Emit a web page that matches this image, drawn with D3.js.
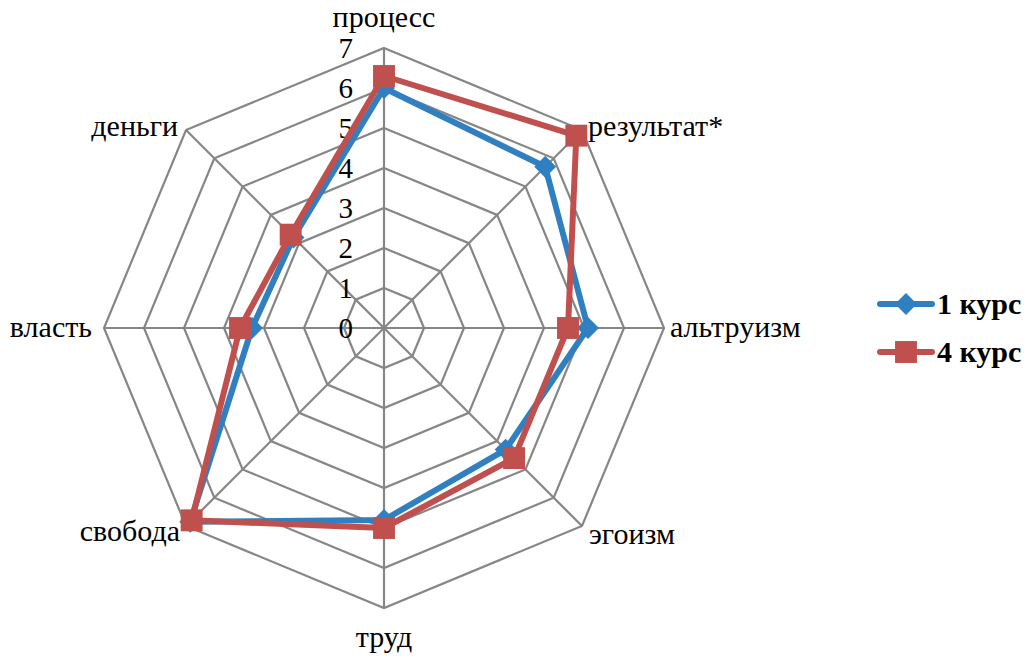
<!DOCTYPE html>
<html>
<head>
<meta charset="utf-8">
<script src="https://cdn.jsdelivr.net/npm/d3@7"></script>
<style>
  html, body { margin: 0; padding: 0; background: #fff; }
</style>
</head>
<body>
<div id="chart"></div>
<script>
const categories = ['процесс', 'результат*', 'альтруизм', 'эгоизм', 'труд', 'свобода', 'власть', 'деньги'];
const course1 = [6.0, 5.7, 5.1, 4.3, 4.8, 6.85, 3.3, 3.2];
const course4 = [6.3, 6.8, 4.6, 4.6, 5.0, 6.8, 3.6, 3.3];
const ticks = [0, 1, 2, 3, 4, 5, 6, 7];
const seriesNames = ['1 курс', '4 курс'];

const width = 1027, height = 659;
const cx = 384, cy = 328;
const blue = '#2f7fc1', red = '#c0504d';
const serif = "'Liberation Serif'";

const svg = d3.select('#chart').append('svg')
  .attr('width', width)
  .attr('height', height);

const r = d3.scaleLinear().domain([0, 7]).range([0, 280]);
const angle = d3.scalePoint().domain(categories).range([0, 2 * Math.PI * 7 / 8]);

const pt = (cat, v) => {
  const a = angle(cat);
  return [cx + r(v) * Math.sin(a), cy - r(v) * Math.cos(a)];
};

const g = svg.append('g');

// rings
ticks.slice(1).forEach((t) => {
  g.append('path')
    .attr('d', d3.line()(categories.map((c) => pt(c, t))) + 'Z')
    .attr('fill', 'none')
    .attr('stroke', '#868686')
    .attr('stroke-width', 2.2);
});

// spokes
categories.forEach((c) => {
  const [x, y] = pt(c, 7);
  g.append('line')
    .attr('x1', cx).attr('y1', cy)
    .attr('x2', x).attr('y2', y)
    .attr('stroke', '#868686')
    .attr('stroke-width', 2.2);
});

// tick labels
g.selectAll('.tick')
  .data(ticks)
  .enter()
  .append('text')
  .attr('x', cx - 31)
  .attr('y', (d) => cy - r(d))
  .attr('dy', '0.33em')
  .attr('text-anchor', 'end')
  .style('font-family', serif)
  .style('font-size', '29px')
  .text((d) => d);

// category labels
const labelPos = {
  'процесс': { dx: 0, dy: -21, anchor: 'middle' },
  'результат*': { dx: 6, dy: 6, anchor: 'start' },
  'альтруизм': { dx: 6, dy: 9, anchor: 'start' },
  'эгоизм': { dx: 7, dy: 18, anchor: 'start' },
  'труд': { dx: 0, dy: 39, anchor: 'middle' },
  'свобода': { dx: -6, dy: 15, anchor: 'end' },
  'власть': { dx: -12, dy: 9, anchor: 'end' },
  'деньги': { dx: -8, dy: 6, anchor: 'end' }
};
categories.forEach((c) => {
  const [x, y] = pt(c, 7);
  const p = labelPos[c];
  g.append('text')
    .attr('x', x + p.dx)
    .attr('y', y + p.dy)
    .attr('text-anchor', p.anchor)
    .style('font-family', serif)
    .style('font-size', '30px')
    .text(c);
});

// series
const drawSeries = (values, color, size, rotate) => {
  const pts = categories.map((c, i) => pt(c, values[i]));
  g.append('path')
    .attr('d', d3.line()(pts) + 'Z')
    .attr('fill', 'none')
    .attr('stroke', color)
    .attr('stroke-width', 6)
    .attr('stroke-linejoin', 'round');
  g.selectAll(null)
    .data(pts)
    .enter()
    .append('path')
    .attr('d', d3.symbol().type(d3.symbolSquare).size(size))
    .attr('transform', (d) => `translate(${d[0]},${d[1]}) rotate(${rotate})`)
    .attr('fill', color);
};
drawSeries(course1, blue, 240, 45);
drawSeries(course4, red, 480, 0);

// legend
const legend = svg.append('g');
const legendItems = [
  { name: seriesNames[0], color: blue, size: 240, rotate: 45, y: 304 },
  { name: seriesNames[1], color: red, size: 480, rotate: 0, y: 352 }
];
legendItems.forEach((d) => {
  legend.append('line')
    .attr('x1', 880).attr('x2', 932)
    .attr('y1', d.y).attr('y2', d.y)
    .attr('stroke', d.color)
    .attr('stroke-width', 6)
    .attr('stroke-linecap', 'round');
  legend.append('path')
    .attr('d', d3.symbol().type(d3.symbolSquare).size(d.size))
    .attr('transform', `translate(906,${d.y}) rotate(${d.rotate})`)
    .attr('fill', d.color);
  legend.append('text')
    .attr('x', 937)
    .attr('y', d.y + 10)
    .style('font-family', serif)
    .style('font-size', '30px')
    .style('font-weight', 'bold')
    .text(d.name);
});
</script>
</body>
</html>
